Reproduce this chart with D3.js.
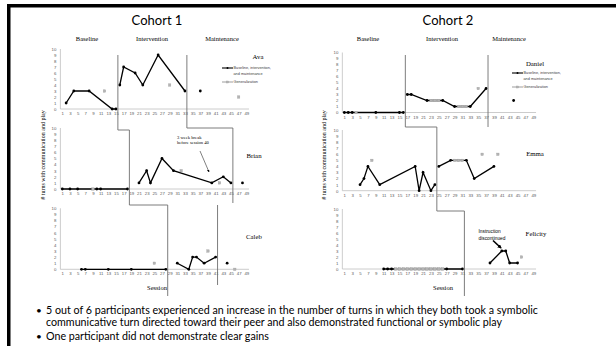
<!DOCTYPE html>
<html><head><meta charset="utf-8">
<script src="https://cdn.jsdelivr.net/npm/d3@7"></script>
<style>body{margin:0;background:#fff;} svg{display:block;}</style>
</head><body>
<script>
// ---------- data ----------
const sessionTicks = d3.range(1, 50, 2);
const valueTicks = d3.range(0, 11);
const cohortTitles = ["Cohort 1", "Cohort 2"];
const phaseLabels = ["Baseline", "Intervention", "Maintenance"];
const legendLabels = ["Baseline, intervention,", "and maintenance", "Generalization"];
const axisTitleY = "# turns with communication and play";
const axisTitleX = "Session";
const bullets = [
  ["5 out of 6 participants experienced an increase in the number of turns in which they both took a symbolic",
   "communicative turn directed toward their peer and also demonstrated functional or symbolic play"],
  ["One participant did not demonstrate clear gains"]
];
const noteBrian = ["3 week break", "before session 40"];
const noteFelicity = ["Instruction", "discontinued"];

const avaBaseline = [[2,1],[4,3],[8,3],[14,0],[15,0]];
const avaIntervention = [[16,4],[17,7],[20,6],[22,4],[26,9],[33,3]];
const avaMaintenance = [[37,3]];
const avaGeneralization = [[12,3],[29,4],[47,2]];

const brianBaseline = [[1,0],[3,0],[5,0],[10,0],[11,0],[18,0]];
const brianIntervention = [[21,1],[23,3],[24,1],[27,5],[30,3],[40,1],[43,2],[45,1]];
const brianMaintenance = [[48,1]];
const brianGeneralization = [[9,0],[32,3],[42,1]];

const calebBaseline = [[6,0],[7,0],[13,0],[19,0],[28,0]];
const calebIntervention = [[31,1],[34,0],[35,2],[36,2],[38,1],[41,2]];
const calebMaintenance = [[44,1]];
const calebGeneralization = [[25,1],[39,3],[46,0]];

const danielBaseline = [[1,0],[2,0],[3,0],[9,0],[15,0],[16,0]];
const danielIntervention = [[17,3],[18,3],[22,2],[26,2],[29,1],[33,1],[37,4]];
const danielMaintenance = [[44,2]];
const danielGeneralization = [[4,0],[23,2],[24,2],[25,2],[30,1],[31,1],[32,1],[35,4]];

const emmaBaseline = [[5,1],[6,2],[7,4],[10,1],[19,4],[20,0],[21,3],[23,0],[24,1]];
const emmaIntervention = [[25,4],[28,5],[32,5],[34,2],[39,4]];
const emmaMaintenance = [];
const emmaGeneralization = [[8,5],[29,5],[30,5],[31,5],[36,6],[40,6]];

const felicityBaseline = [[11,0],[12,0],[13,0],[27,0],[31,0]];
const felicityIntervention = [[38,1],[41,3],[42,3],[43,1],[45,1]];
const felicityMaintenance = [];
const felicityGeneralization = [[14,0],[15,0],[16,0],[17,0],[18,0],[19,0],[20,0],[21,0],[22,0],[23,0],[24,0],[25,0],[26,0],[46,2]];

// ---------- layout ----------
const W = 616, H = 346;
const svg = d3.select("body").append("svg").attr("width", W).attr("height", H);
const SERIF = "'Liberation Serif', 'Times New Roman', serif";
const SANS = "'Liberation Sans', Arial, sans-serif";
const TITLE = "Lato, 'Open Sans', sans-serif";

// slide border
svg.append("rect").attr("x", 7).attr("y", 4).attr("width", W - 7).attr("height", 3.5).attr("fill", "#000");
svg.append("rect").attr("x", 7).attr("y", 4).attr("width", 3.5).attr("height", H - 4).attr("fill", "#000");

const cohorts = [
  {x: d3.scaleLinear().domain([1, 49]).range([62.3, 246.3]), titleX: 157, phaseX: [87, 152, 222], ylabX: 43, sessX: 157},
  {x: d3.scaleLinear().domain([1, 49]).range([344.3, 533.3]), titleX: 448, phaseX: [368, 442, 509], ylabX: 324, sessX: 443}
];

const panels = [
  {name: "Ava", c: 0, y: [109, 49], nx: 258, ny: 59, d: [avaBaseline, avaIntervention, avaMaintenance], g: avaGeneralization, legend: [222, 68]},
  {name: "Brian", c: 0, y: [189, 128], nx: 254, ny: 158, d: [brianBaseline, brianIntervention, brianMaintenance], g: brianGeneralization},
  {name: "Caleb", c: 0, y: [269.3, 208.3], nx: 254, ny: 239, d: [calebBaseline, calebIntervention, calebMaintenance], g: calebGeneralization},
  {name: "Daniel", c: 1, y: [112.5, 52.5], nx: 535, ny: 66, d: [danielBaseline, danielIntervention, danielMaintenance], g: danielGeneralization, legend: [512, 73]},
  {name: "Emma", c: 1, y: [190.7, 130], nx: 535, ny: 156, d: [emmaBaseline, emmaIntervention, emmaMaintenance], g: emmaGeneralization},
  {name: "Felicity", c: 1, y: [269, 209], nx: 536, ny: 236, d: [felicityBaseline, felicityIntervention, felicityMaintenance], g: felicityGeneralization}
];

// titles
cohorts.forEach((co, i) => {
  svg.append("text").attr("x", co.titleX).attr("y", 24.5).attr("text-anchor", "middle")
    .attr("font-family", TITLE).attr("font-size", 13).attr("fill", "#000").text(cohortTitles[i]);
  phaseLabels.forEach((p, j) => {
    svg.append("text").attr("x", co.phaseX[j]).attr("y", 40.5).attr("text-anchor", "middle")
      .attr("font-family", SERIF).attr("font-size", 6.5).attr("fill", "#000").text(p);
  });
  svg.append("text").attr("transform", `translate(${co.ylabX},155) rotate(-90)`).attr("text-anchor", "middle")
    .attr("dy", "0.35em").attr("font-family", SERIF).attr("font-size", 6).attr("fill", "#000").text(axisTitleY);
  svg.append("text").attr("x", co.sessX).attr("y", 290).attr("text-anchor", "middle")
    .attr("font-family", SERIF).attr("font-size", 6.5).attr("fill", "#000").text(axisTitleX);
});

// panels
panels.forEach(p => {
  const x = cohorts[p.c].x;
  const y = d3.scaleLinear().domain([0, 10]).range(p.y);
  const g = svg.append("g");
  const ya = g.append("g").attr("transform", `translate(${x(0.5)},0)`)
    .call(d3.axisLeft(y).tickValues(valueTicks).tickSize(0).tickPadding(4));
  ya.select(".domain").remove();
  ya.selectAll("text").attr("font-family", SANS).attr("font-size", 4.3).attr("fill", "#595959");
  const xa = g.append("g").attr("transform", `translate(0,${y(0)})`)
    .call(d3.axisBottom(x).tickValues(sessionTicks).tickSize(0).tickPadding(3));
  xa.select(".domain").remove();
  xa.selectAll("text").attr("font-family", SANS).attr("font-size", 4.3).attr("fill", "#595959");
  g.append("line").attr("x1", x(0.5)).attr("x2", x(0.5)).attr("y1", y(10)).attr("y2", y(0)).attr("stroke", "#bfbfbf").attr("stroke-width", 0.8);
  g.append("line").attr("x1", x(0.5)).attr("x2", x(49.7)).attr("y1", y(0)).attr("y2", y(0)).attr("stroke", "#bfbfbf").attr("stroke-width", 0.8);

  const runs = [];
  p.g.forEach((pt, i) => {
    if (i > 0 && pt[0] - p.g[i - 1][0] === 1) runs[runs.length - 1].push(pt); else runs.push([pt]);
  });
  const line = d3.line().x(d => x(d[0])).y(d => y(d[1]));
  p.d.forEach(seg => {
    if (seg.length > 1) g.append("path").attr("d", line(seg)).attr("fill", "none").attr("stroke", "#000").attr("stroke-width", 1.3);
    g.selectAll(null).data(seg).enter().append("circle")
      .attr("cx", d => x(d[0])).attr("cy", d => y(d[1])).attr("r", 1.4).attr("fill", "#000");
  });
  runs.forEach(r => {
    if (r.length > 1) g.append("path").attr("d", line(r)).attr("fill", "none").attr("stroke", "#a8a8a8").attr("stroke-width", 2.4);
  });
  g.selectAll(null).data(p.g).enter().append("rect")
    .attr("x", d => x(d[0]) - 1.2).attr("y", d => y(d[1]) - 1.2).attr("width", 2.4).attr("height", 2.4)
    .attr("fill", "#b4b4b4").attr("stroke", "#a0a0a0").attr("stroke-width", 0.4);

  g.append("text").attr("x", p.nx).attr("y", p.ny).attr("text-anchor", "middle")
    .attr("font-family", SERIF).attr("font-size", 6.8).attr("fill", "#000").text(p.name);

  if (p.legend) {
    const [lx, ly] = p.legend;
    g.append("line").attr("x1", lx).attr("x2", lx + 11).attr("y1", ly).attr("y2", ly).attr("stroke", "#000").attr("stroke-width", 1.1);
    g.append("circle").attr("cx", lx + 5.5).attr("cy", ly).attr("r", 1).attr("fill", "#000");
    g.append("line").attr("x1", lx).attr("x2", lx + 11).attr("y1", ly + 14).attr("y2", ly + 14).attr("stroke", "#a6a6a6").attr("stroke-width", 1.1);
    g.append("rect").attr("x", lx + 4.5).attr("y", ly + 13).attr("width", 2).attr("height", 2).attr("fill", "#b4b4b4").attr("stroke", "#a0a0a0").attr("stroke-width", 0.4);
    [[legendLabels[0], ly + 1.2], [legendLabels[1], ly + 6.5], [legendLabels[2], ly + 15.2]].forEach(([t, ty]) => {
      g.append("text").attr("x", lx + 11.5).attr("y", ty).attr("font-family", SANS).attr("font-size", 3.8).attr("fill", "#404040").text(t);
    });
  }
});

// phase change lines
const x1 = cohorts[0].x, x2 = cohorts[1].x;
function stepPath(xs, xsess, ys) {
  const pts = [[xs(xsess[0]), ys[0]]];
  xsess.forEach((s, i) => {
    pts.push([xs(s), ys[i + 1]]);
    if (i + 1 < xsess.length) pts.push([xs(xsess[i + 1]), ys[i + 1]]);
  });
  return d3.line()(pts);
}
const phaseStroke = "#6e6e6e";
[
  stepPath(x1, [15.5, 18.5, 28.5], [55, 130, 205, 296]),
  stepPath(x1, [33.5, 45.5], [55, 128, 203]),
  stepPath(x1, [41.5], [205, 285]),
  stepPath(x2, [16.5, 24.5, 31.5], [55, 127, 211, 296]),
  stepPath(x2, [37.5], [55, 127])
].forEach(d => svg.append("path").attr("d", d).attr("fill", "none").attr("stroke", phaseStroke).attr("stroke-width", 0.9));

// annotations
const defs = svg.append("defs");
defs.append("marker").attr("id", "ah").attr("viewBox", "0 0 10 10").attr("refX", 9).attr("refY", 5)
  .attr("markerWidth", 5).attr("markerHeight", 5).attr("orient", "auto")
  .append("path").attr("d", "M0,0L10,5L0,10z").attr("fill", "#000");
defs.append("marker").attr("id", "ah2").attr("viewBox", "0 0 10 10").attr("refX", 8).attr("refY", 5)
  .attr("markerWidth", 2.6).attr("markerHeight", 2.6).attr("orient", "auto")
  .append("path").attr("d", "M0,0L10,5L0,10z").attr("fill", "#000");
noteBrian.forEach((t, i) => svg.append("text").attr("x", 177).attr("y", 138.5 + i * 5.5)
  .attr("font-family", SERIF).attr("font-size", 4.6).attr("fill", "#000").text(t));
svg.append("line").attr("x1", 200).attr("y1", 151).attr("x2", 209).attr("y2", 172)
  .attr("stroke", "#000").attr("stroke-width", 0.5).attr("marker-end", "url(#ah)");
noteFelicity.forEach((t, i) => svg.append("text").attr("x", 478.5).attr("y", 232.5 + i * 7.5)
  .attr("font-family", SANS).attr("font-size", 4.8).attr("fill", "#000").text(t));
svg.append("line").attr("x1", 493).attr("y1", 240.5).attr("x2", 501).attr("y2", 248)
  .attr("stroke", "#000").attr("stroke-width", 1.6).attr("marker-end", "url(#ah2)");

// bullets
let by = 313.5;
bullets.forEach(b => {
  svg.append("text").attr("x", 36).attr("y", by).attr("font-family", TITLE).attr("font-size", 10).attr("fill", "#000").text("•");
  b.forEach(t => {
    svg.append("text").attr("x", 46).attr("y", by).attr("font-family", TITLE).attr("font-size", 10.7).attr("fill", "#000").text(t);
    by += 12.5;
  });
  by += 1.5;
});
</script>
</body></html>
